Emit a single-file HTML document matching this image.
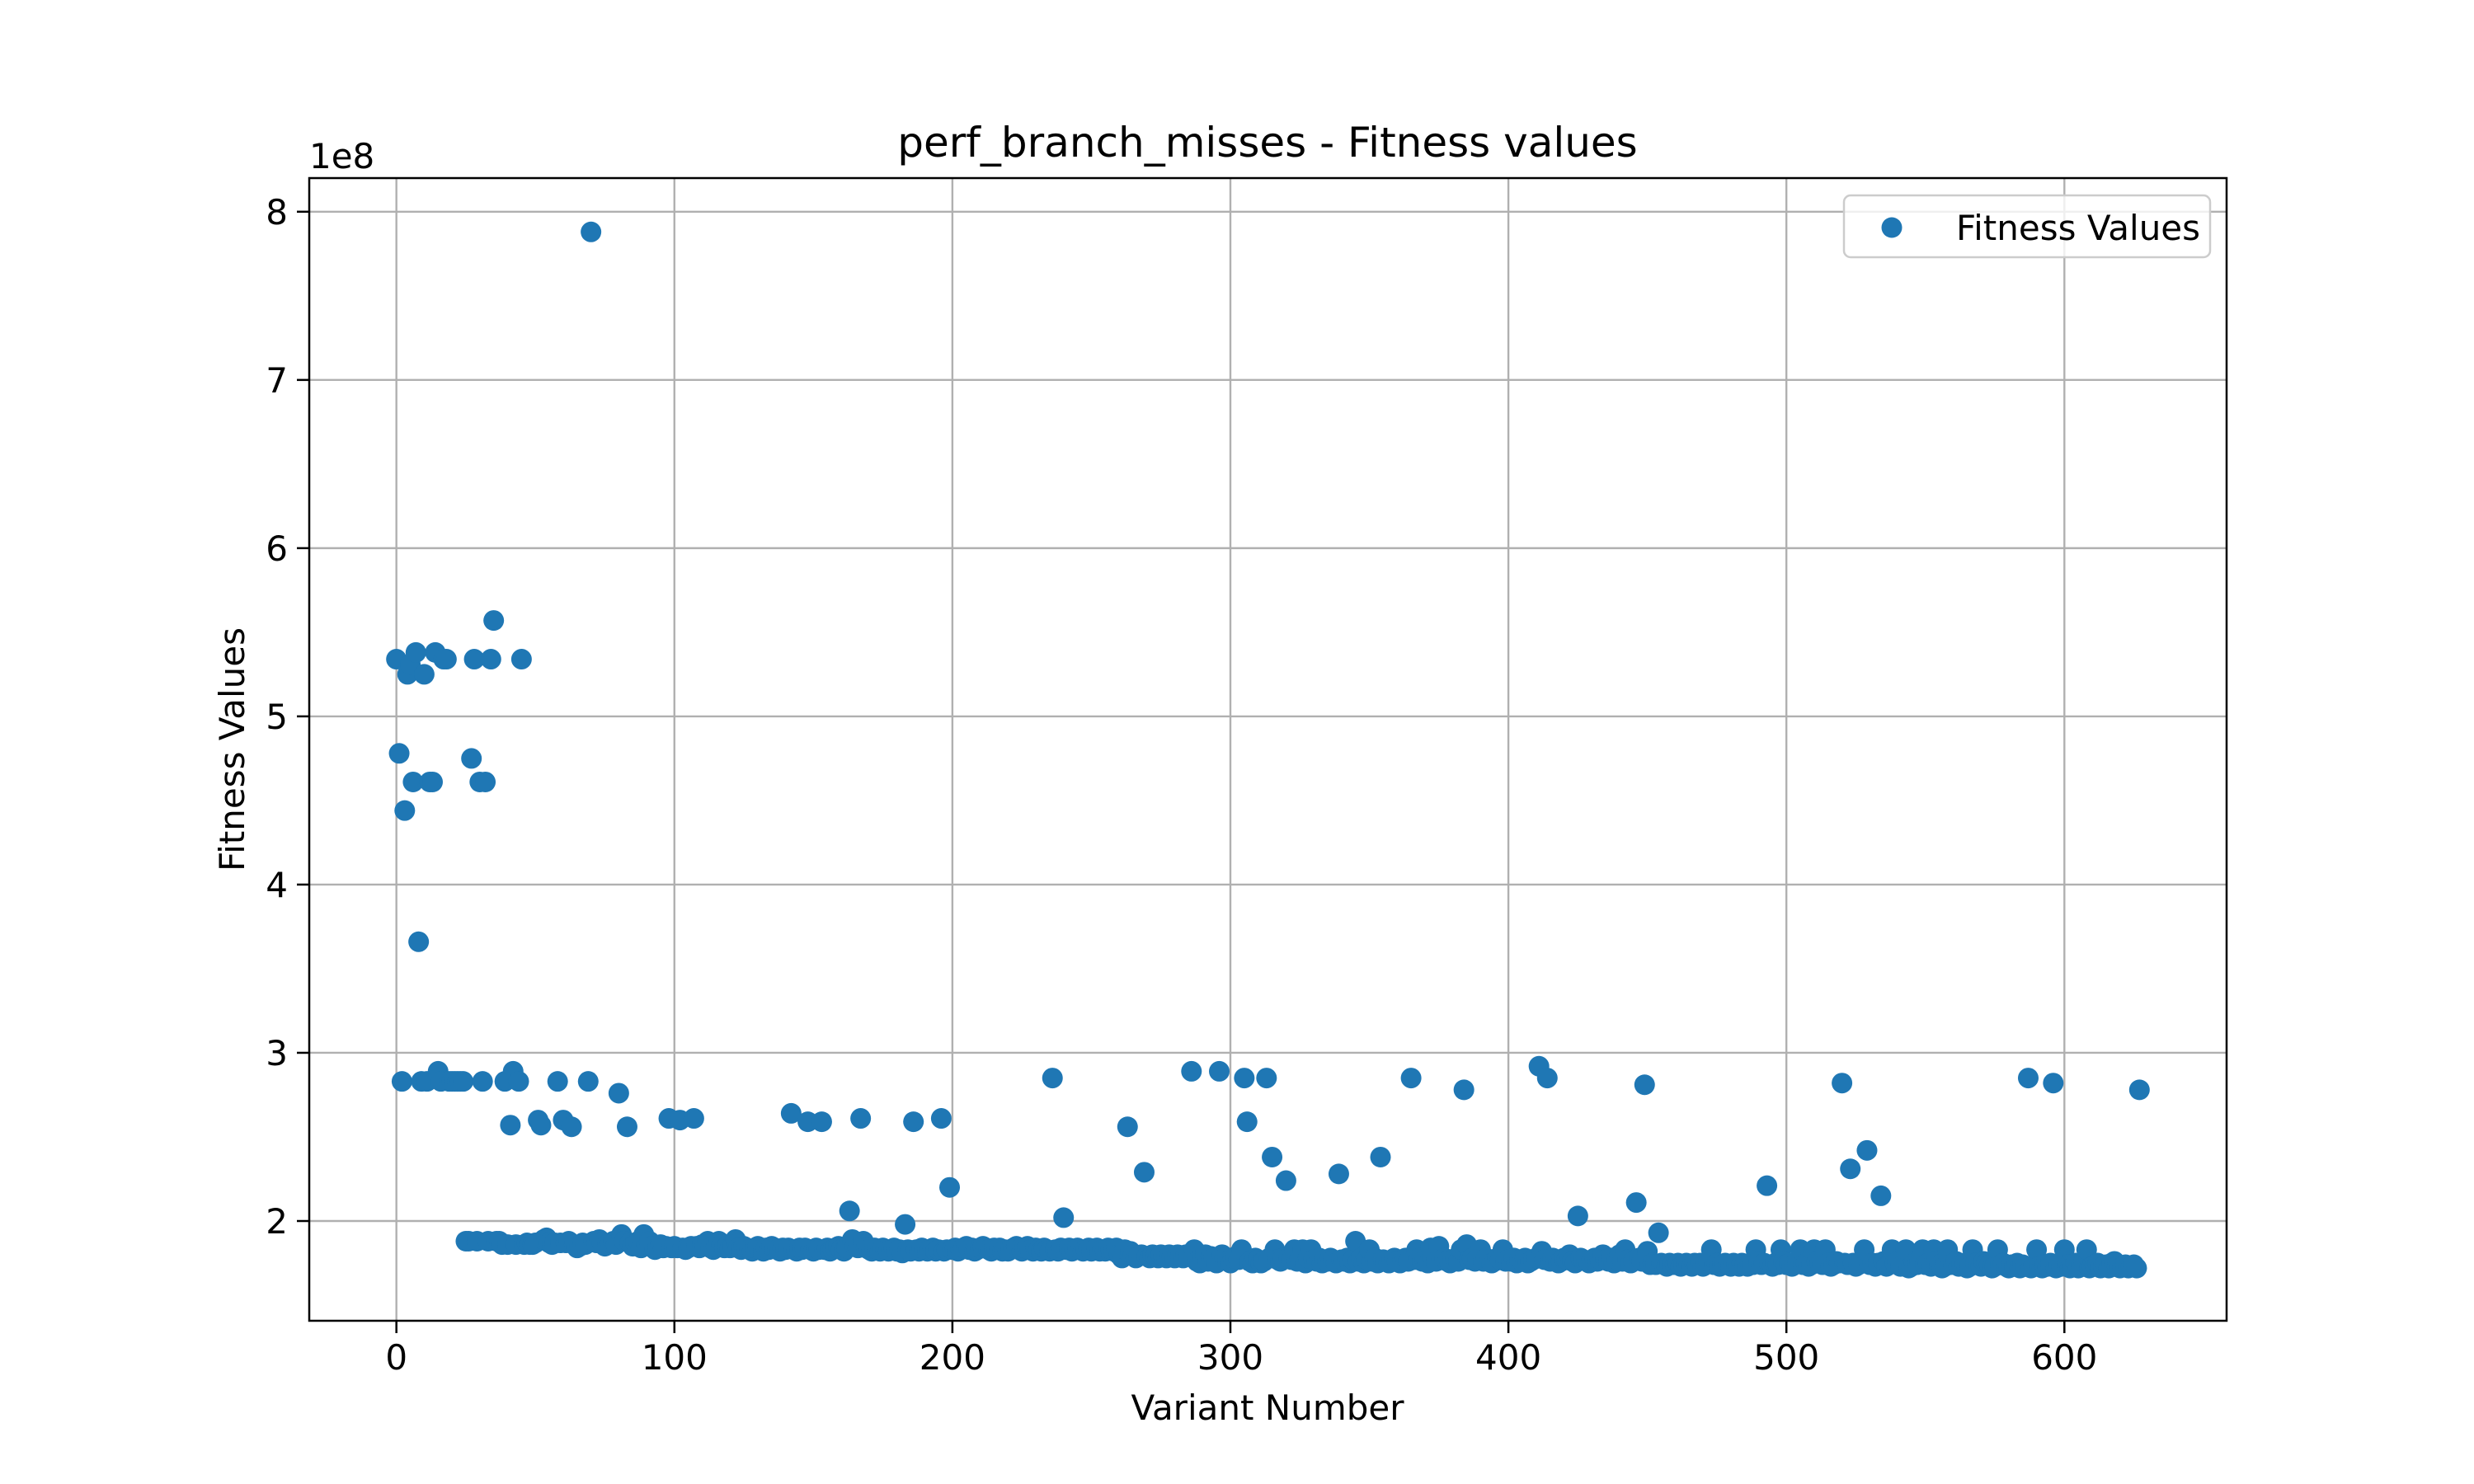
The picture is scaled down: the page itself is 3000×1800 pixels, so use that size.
<!DOCTYPE html>
<html><head><meta charset="utf-8"><style>
html,body{margin:0;padding:0;background:#fff;}
svg{display:block;font-family:"DejaVu Sans","Liberation Sans",sans-serif;}
</style></head><body>
<svg id="chart" width="3000" height="1800" viewBox="0 0 3000 1800" xmlns="http://www.w3.org/2000/svg">
<rect width="3000" height="1800" fill="#fff"/>
<g id="grid"></g>
<g id="points"></g>
<rect x="375" y="216" width="2325" height="1386" fill="none" stroke="#000" stroke-width="2.5"/>
<g id="ticks"></g>
<text x="1537" y="190" font-size="50" text-anchor="middle">perf_branch_misses - Fitness values</text>
<text x="1537" y="1722" font-size="42" text-anchor="middle">Variant Number</text>
<text transform="translate(296,909) rotate(-90)" font-size="42" text-anchor="middle">Fitness Values</text>
<text x="375" y="204" font-size="42">1e8</text>
<g>
<rect x="2236" y="237" width="444" height="75" rx="8" fill="#fff" fill-opacity="0.8" stroke="#ccc" stroke-width="2.5"/>
<circle cx="2294" cy="276" r="12.5" fill="#1f77b4"/>
<text x="2372" y="291" font-size="42">Fitness Values</text>
</g>
</svg>
<script>
const xTicks = [0,100,200,300,400,500,600];
const yTicks = [2,3,4,5,6,7,8];
const fitnessA = [534,478,283,444,525,531,461,538,366,283,525,283,461,461,538,289,283,534,534,283,283,283,283,283,283];
const fitnessB = [188,188,475,534,188,461,283,461,188,534,557,188,188,186,283,186,257,289,186,283,534,186,187,186,186,187,260,257,189,190,187,186,187,283,187,260,187,188,256,186,184,185,187,186,283,788,188,187,189,187,185,186,187,188,186,276,192,188,256,187,185,187,188,184,192,186,188,185,183,184,186,184,185,261,184,185,184,260,184,183,184,185,261];
const fitnessC = [185,184,186,185,188,184,183,185,188,186,184,185];
const fitnessD = [184,185,189,184,183,185,184,183,182,184,185,183,182,184,183,185,184,183,182,184,
183,184,264,183,182,184,183,184,259,183,182,184,183,259,183,184,182,183,184,185,
183,182,184,206,189,185,184,261,188,184,183,182,184,183,182,184,183,182,183,184,
182,183,181,198,183,182,259,183,182,184,183,182,183,184,182,183,261,182,183,220,
183,184,182,183,184,185,183,184,182,183,184,185,184,183,182,184,183,184,182,183,
182,183,184,185,183,182,184,185,183,182,184,183,182,184,183,182,285,183,182,184,
202,183,184,182,183,184,183,182,183,184,182,183,184,182,183,182,184,183,182,184,
180,178,183,256,182,180,178,179,180,229,179,178,180,179,178,180,179,178,180,179,
178,180,179,178,180,179,289,183,176,175,178,180,176,179,178,175,289,180,178,176,
175,178,179,177,183,285,259,176,175,178,177,175,176,285,178,238,183,177,176,178,
224,178,177,183,176,178,183,175,178,183,177,176,178,175,177,176,178,177,175,228,
177,176,178,175,177,188,176,178,175,177,183,176,178,175,238,177,176,175,177,178,
176,175,177,178,176,285,177,183,178,176,177,175,184,178,176,185,177,178,176,175,
177,178,176,183,278,186,177,178,176,177,183,176,178,177,175,176,178,177,183,176,
177,176,178,175,177,176,178,175,176,177,178,292,182,177,285,176,178,177,175,176,
178,177,180,176,175,203,178,177,176,175,177,178,176,177,180,177,176,178,175,177,
180,176,183,177,175,176,211,178,176,281,182,174,175,174,193,175,174,173,175,174,
174,175,173,174,175,174,173,175,174,175,173,174,176,183,174,175,173,174,175,174,
173,175,174,173,175,174,173,175,174,183,176,174,175,221,174,173,175,174,183,176,
174,175,173,174,176,183,174,175,173,174,183,176,175,174,183,175,173,174,176,175,
282,175,174,231,175,173,174,176,183,242,174,175,173,175,215,176,173,174,183,175,
176,173,174,183,172,173,175,174,176,183,174,175,173,183,176,174,172,173,183,174,
175,176,173,174,175,172,173,183,175,174,173,176,175,174,172,173,183,174,175,173,
172,174,173,175,172,174,173,285,172,174,183,173,172,174,173,175,282,172,174,173,
183,174,172,173,175,172,174,176,183,172,173,174,175,172,173,174,172,175,176,173,
172,173,174,172,173,174,172,278];
const fitness = fitnessA.concat(fitnessB, fitnessC, fitnessD); // units of 1e6

const NS = "http://www.w3.org/2000/svg";
const L = 375, R = 2700, T = 216, B = 1602;
const xMin = -31.35, xMax = 658.35, yMin = 1.407, yMax = 8.2;
function xs(v){ return L + (v - xMin) / (xMax - xMin) * (R - L); }
function ys(v){ return B - (v - yMin) / (yMax - yMin) * (B - T); }
function mk(tag, attrs, parent){ const e = document.createElementNS(NS, tag); for (const k in attrs) e.setAttribute(k, attrs[k]); parent.appendChild(e); return e; }

const grid = document.getElementById('grid');
const ticks = document.getElementById('ticks');
xTicks.forEach(t => {
  const x = xs(t);
  const g = mk('line', {x1:x, x2:x, y1:T, y2:B, stroke:'#b0b0b0', 'stroke-width':2.4}, grid);
  
  
  const tk = mk('line', {x1:x, x2:x, y1:B, y2:B+15, stroke:'#000', 'stroke-width':2.5}, ticks);
  
  
  const lb = mk('text', {x:x, y:B+59, 'font-size':42, 'text-anchor':'middle'}, ticks);
  lb.textContent = t;
  
  
});
yTicks.forEach(t => {
  const y = ys(t);
  const g = mk('line', {x1:L, x2:R, y1:y, y2:y, stroke:'#b0b0b0', 'stroke-width':2.4}, grid);
  
  
  const tk = mk('line', {x1:L-15, x2:L, y1:y, y2:y, stroke:'#000', 'stroke-width':2.5}, ticks);
  
  
  const lb = mk('text', {x:L-26, y:y+15, 'font-size':42, 'text-anchor':'end'}, ticks);
  lb.textContent = t;
  
  
});
const pts = document.getElementById('points');
fitness.forEach((v, i) => {
  const c = mk('circle', {cx:xs(i), cy:ys(v/100), r:12.5, fill:'#1f77b4'}, pts);
  
  
});
</script>
</body></html>
